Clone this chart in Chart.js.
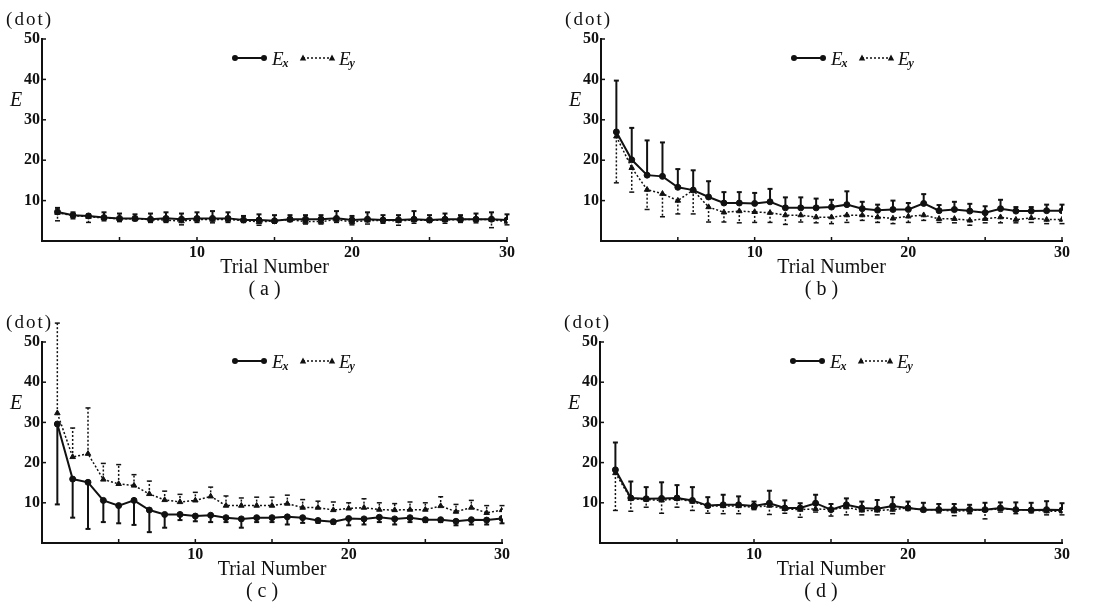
<!DOCTYPE html>
<html>
<head>
<meta charset="utf-8">
<script src="https://cdn.jsdelivr.net/npm/chart.js@4.4.0/dist/chart.umd.min.js"></script>
<style>
  html, body { margin: 0; padding: 0; background: #fff; }
  #wrap { position: relative; width: 1100px; height: 603px; }
  .panel { position: absolute; }
</style>
</head>
<body>
<div id="wrap">
  <div class="panel" style="left:0;top:0"><canvas id="chartA" width="550" height="300"></canvas></div>
  <div class="panel" style="left:550px;top:0"><canvas id="chartB" width="550" height="300"></canvas></div>
  <div class="panel" style="left:0;top:300px"><canvas id="chartC" width="550" height="303"></canvas></div>
  <div class="panel" style="left:550px;top:300px"><canvas id="chartD" width="550" height="303"></canvas></div>
</div>
<script>
// Trial numbers
const trials = [1, 2, 3, 4, 5, 6, 7, 8, 9, 10, 11, 12, 13, 14, 15, 16, 17, 18, 19, 20, 21, 22, 23, 24, 25, 26, 27, 28, 29, 30];
const xTicks = [10, 20, 30];
const yTicks = [10, 20, 30, 40, 50];

// (a) means and error-bar ends
const exA = [7.2, 6.4, 6.2, 5.8, 5.6, 5.6, 5.4, 5.6, 5.4, 5.6, 5.6, 5.6, 5.2, 5.2, 5.0, 5.4, 5.4, 5.4, 5.6, 5.2, 5.4, 5.2, 5.2, 5.4, 5.2, 5.4, 5.4, 5.4, 5.4, 5.2];
const exAEnd = [8.2, 7.1, 6.6, 7.1, 6.8, 6.6, 6.8, 7.1, 6.8, 7.1, 7.4, 7.1, 6.2, 6.6, 6.4, 6.4, 6.4, 6.4, 7.4, 6.2, 7.1, 6.4, 6.4, 7.4, 6.4, 6.8, 6.4, 6.8, 7.1, 6.6];
const eyA = [7.0, 6.3, 6.0, 5.7, 5.5, 5.5, 5.3, 5.2, 4.9, 5.3, 5.3, 5.3, 5.1, 4.7, 5.0, 5.3, 4.8, 4.8, 5.3, 4.7, 5.1, 5.1, 5.0, 5.2, 5.1, 5.2, 5.3, 5.3, 5.3, 4.8];
const eyAEnd = [5.0, 5.5, 4.6, 5.0, 4.8, 5.0, 4.6, 4.6, 4.0, 4.6, 4.5, 4.6, 4.6, 3.9, 4.4, 4.8, 4.2, 4.2, 4.6, 4.0, 4.2, 4.4, 3.9, 4.4, 4.6, 4.4, 4.6, 4.5, 3.3, 4.0];

// (b)
const exB = [27.0, 20.1, 16.3, 16.0, 13.3, 12.6, 10.9, 9.4, 9.4, 9.3, 9.7, 8.2, 8.2, 8.2, 8.4, 9.0, 8.0, 7.6, 7.8, 7.8, 9.3, 7.5, 7.8, 7.4, 7.0, 8.0, 7.4, 7.4, 7.5, 7.5];
const exBEnd = [39.7, 28.0, 24.9, 24.4, 17.8, 17.5, 14.8, 12.1, 12.1, 11.9, 12.9, 10.8, 10.8, 10.5, 10.2, 12.3, 9.7, 9.0, 10.0, 9.4, 11.6, 8.9, 9.7, 9.2, 8.6, 10.2, 8.4, 8.4, 9.0, 9.0];
const eyB = [25.9, 18.1, 12.7, 11.7, 10.0, 12.6, 8.4, 7.1, 7.4, 7.2, 7.0, 6.4, 6.4, 5.9, 5.9, 6.4, 6.4, 5.9, 5.6, 6.1, 6.4, 5.5, 5.5, 5.1, 5.5, 5.9, 5.3, 5.7, 5.3, 5.3];
const eyBEnd = [14.4, 12.1, 7.8, 6.0, 6.7, 6.7, 4.7, 4.7, 4.5, 4.6, 4.6, 4.1, 4.7, 4.5, 4.3, 4.6, 5.1, 4.6, 4.3, 4.6, 5.1, 4.6, 4.5, 3.9, 4.5, 4.5, 4.5, 4.6, 4.3, 4.3];

// (c)
const exC = [29.6, 15.9, 15.1, 10.6, 9.3, 10.6, 8.2, 7.1, 7.1, 6.7, 6.9, 6.3, 6.0, 6.3, 6.3, 6.5, 6.3, 5.6, 5.3, 6.1, 6.0, 6.4, 6.0, 6.3, 5.8, 5.8, 5.4, 5.8, 5.7, 6.1];
const exCEnd = [9.6, 6.3, 3.5, 5.2, 4.9, 4.5, 2.7, 3.8, 5.7, 5.4, 5.2, 5.2, 3.8, 5.2, 5.2, 4.6, 5.0, 5.0, 4.8, 4.4, 4.6, 5.2, 4.6, 5.2, 5.2, 5.2, 4.4, 4.6, 4.6, 4.9];
const eyC = [32.3, 21.4, 22.2, 15.8, 14.7, 14.3, 12.2, 10.7, 10.2, 10.6, 11.6, 9.3, 9.3, 9.3, 9.3, 9.8, 8.8, 8.8, 8.2, 8.6, 8.8, 8.3, 8.2, 8.3, 8.3, 9.2, 7.8, 8.8, 7.5, 8.2];
const eyCEnd = [54.7, 28.6, 33.6, 19.8, 19.5, 17.0, 15.4, 12.9, 12.1, 12.6, 13.9, 11.7, 11.2, 11.4, 11.4, 11.9, 10.8, 10.4, 10.2, 10.0, 11.0, 10.0, 9.8, 10.2, 10.0, 11.5, 9.6, 10.6, 9.3, 9.3];

// (d)
const exD = [18.2, 11.2, 11.0, 11.1, 11.2, 10.6, 9.3, 9.5, 9.5, 9.2, 9.9, 8.7, 8.7, 9.9, 8.3, 9.5, 8.7, 8.5, 9.2, 8.7, 8.3, 8.3, 8.3, 8.3, 8.3, 8.7, 8.3, 8.2, 8.3, 8.2];
const exDEnd = [25.0, 15.3, 13.9, 15.1, 14.4, 13.9, 11.4, 12.0, 11.6, 10.3, 13.0, 10.6, 9.9, 12.0, 9.7, 11.1, 10.3, 10.7, 11.4, 10.3, 10.0, 9.7, 9.7, 9.5, 10.0, 10.1, 10.1, 10.0, 10.4, 9.9];
const eyD = [17.4, 11.0, 10.8, 10.6, 11.0, 10.3, 9.2, 9.2, 9.2, 8.9, 9.3, 8.5, 8.3, 8.5, 8.3, 8.9, 8.1, 8.1, 8.3, 8.7, 8.3, 8.3, 7.9, 8.1, 8.2, 8.5, 8.3, 8.2, 7.9, 7.9];
const eyDEnd = [8.1, 7.9, 8.9, 7.4, 8.9, 8.1, 7.4, 7.3, 7.3, 8.3, 7.1, 7.4, 6.4, 7.7, 6.7, 7.0, 7.0, 7.0, 7.3, 8.1, 7.8, 7.5, 6.8, 7.3, 6.0, 7.7, 7.3, 7.5, 7.0, 7.0];

const INK = '#111';
const SERIF = '"Liberation Serif", "DejaVu Serif", serif';

// vertical error bars, one-sided, with a small cap
const errorBars = {
  id: 'errorBars',
  beforeDatasetsDraw(chart) {
    const { ctx, scales: { x, y } } = chart;
    chart.data.datasets.forEach(ds => {
      if (!ds.barEnds) return;
      ctx.save();
      ctx.strokeStyle = INK;
      ctx.lineWidth = ds.borderWidth;
      ds.data.forEach((p, i) => {
        const px = x.getPixelForValue(p.x);
        const py = y.getPixelForValue(p.y);
        const pe = y.getPixelForValue(ds.barEnds[i]);
        ctx.setLineDash(ds.borderDash || []);
        ctx.beginPath();
        ctx.moveTo(px, py);
        ctx.lineTo(px, pe);
        ctx.stroke();
        ctx.setLineDash([]);
        ctx.beginPath();
        ctx.moveTo(px - 2.5, pe);
        ctx.lineTo(px + 2.5, pe);
        ctx.stroke();
      });
      ctx.restore();
    });
  }
};

// inner tick marks, legend and all the loose text
const decorations = {
  id: 'decorations',
  afterDraw(chart) {
    const { ctx, chartArea: ca, scales: { x, y } } = chart;
    const label = chart.options.plugins.decorations.label;
    ctx.save();
    ctx.strokeStyle = INK;
    ctx.fillStyle = INK;
    ctx.lineWidth = 1.5;

    // tick marks inside the axes
    [5, 10, 15, 20, 25, 30].forEach(v => {
      const px = x.getPixelForValue(v);
      ctx.beginPath(); ctx.moveTo(px, ca.bottom); ctx.lineTo(px, ca.bottom - 4); ctx.stroke();
    });
    yTicks.forEach(v => {
      const py = y.getPixelForValue(v);
      ctx.beginPath(); ctx.moveTo(ca.left, py); ctx.lineTo(ca.left + 4, py); ctx.stroke();
    });

    // legend
    const lx = ca.left + 193, ly = ca.top + 19;
    ctx.lineWidth = 2;
    ctx.beginPath(); ctx.moveTo(lx, ly); ctx.lineTo(lx + 29, ly); ctx.stroke();
    [lx, lx + 29].forEach(cx => { ctx.beginPath(); ctx.arc(cx, ly, 3, 0, Math.PI * 2); ctx.fill(); });
    const tx = lx + 68;
    ctx.lineWidth = 1.5;
    ctx.setLineDash([2, 2]);
    ctx.beginPath(); ctx.moveTo(tx, ly); ctx.lineTo(tx + 29, ly); ctx.stroke();
    ctx.setLineDash([]);
    [tx, tx + 29].forEach(cx => {
      ctx.beginPath(); ctx.moveTo(cx, ly - 3.5); ctx.lineTo(cx + 3.2, ly + 2.5); ctx.lineTo(cx - 3.2, ly + 2.5); ctx.closePath(); ctx.fill();
    });
    ctx.textBaseline = 'alphabetic';
    ctx.textAlign = 'left';
    [['x', lx + 37], ['y', lx + 104]].forEach(([sub, ex]) => {
      ctx.font = 'italic 19px ' + SERIF;
      ctx.fillText('E', ex, ly + 7);
      const w = ctx.measureText('E').width;
      ctx.font = 'italic bold 12px ' + SERIF;
      ctx.fillText(sub, ex + w - 1, ly + 9);
    });

    // unit, axis letter, axis title and panel label
    ctx.font = '19px ' + SERIF;
    ctx.letterSpacing = '2px';
    ctx.textBaseline = 'middle';
    ctx.textAlign = 'right';
    ctx.fillText('(dot)', ca.left + 11, ca.top - 19);
    ctx.letterSpacing = '0px';
    ctx.font = 'italic 20px ' + SERIF;
    ctx.textAlign = 'center';
    ctx.fillText('E', ca.left - 26, ca.top + 62);
    ctx.font = '20px ' + SERIF;
    const mid = (ca.left + ca.right) / 2;
    ctx.fillText('Trial Number', mid, ca.bottom + 27);
    ctx.fillText(label, mid - 10, ca.bottom + 49);
    ctx.restore();
  }
};

function makePanel(id, label, ex, exEnd, ey, eyEnd, box) {
  const tickFont = { family: SERIF, size: 16, weight: 'bold' };
  new Chart(document.getElementById(id), {
    type: 'line',
    data: {
      datasets: [
        {
          label: 'Ex',
          data: trials.map((t, i) => ({ x: t, y: ex[i] })),
          barEnds: exEnd,
          borderColor: INK,
          backgroundColor: INK,
          borderWidth: 2,
          pointStyle: 'circle',
          pointRadius: 3,
          pointBorderWidth: 1,
          tension: 0
        },
        {
          label: 'Ey',
          data: trials.map((t, i) => ({ x: t, y: ey[i] })),
          barEnds: eyEnd,
          borderColor: INK,
          backgroundColor: INK,
          borderWidth: 1.5,
          borderDash: [2, 2],
          pointStyle: 'triangle',
          pointRadius: 3.2,
          pointBorderWidth: 1,
          tension: 0
        }
      ]
    },
    options: {
      responsive: false,
      animation: false,
      layout: { padding: { left: 0, top: box.top, right: box.w - box.right, bottom: 0 } },
      plugins: {
        legend: { display: false },
        tooltip: { enabled: false },
        decorations: { label: label }
      },
      scales: {
        x: {
          type: 'linear',
          min: 0,
          max: 30,
          grid: { display: false, drawTicks: false },
          border: { display: true, color: INK, width: 2 },
          ticks: {
            stepSize: 5,
            autoSkip: false,
            maxRotation: 0,
            padding: 2,
            color: INK,
            font: tickFont,
            callback: v => (xTicks.includes(v) ? v : '')
          },
          afterFit: s => { s.height = box.h - box.bottom; }
        },
        y: {
          min: 0,
          max: 50,
          grid: { display: false, drawTicks: false },
          border: { display: true, color: INK, width: 2 },
          ticks: {
            stepSize: 10,
            padding: 2,
            color: INK,
            font: tickFont,
            callback: v => (yTicks.includes(v) ? v : '')
          },
          afterFit: s => { s.width = box.left; }
        }
      }
    },
    plugins: [errorBars, decorations]
  });
}

makePanel('chartA', '( a )', exA, exAEnd, eyA, eyAEnd, { left: 42, right: 507, top: 39, bottom: 241, w: 550, h: 300 });
makePanel('chartB', '( b )', exB, exBEnd, eyB, eyBEnd, { left: 51, right: 512, top: 39, bottom: 241, w: 550, h: 300 });
makePanel('chartC', '( c )', exC, exCEnd, eyC, eyCEnd, { left: 42, right: 502, top: 42, bottom: 243, w: 550, h: 303 });
makePanel('chartD', '( d )', exD, exDEnd, eyD, eyDEnd, { left: 50, right: 512, top: 42, bottom: 243, w: 550, h: 303 });
</script>
</body>
</html>
